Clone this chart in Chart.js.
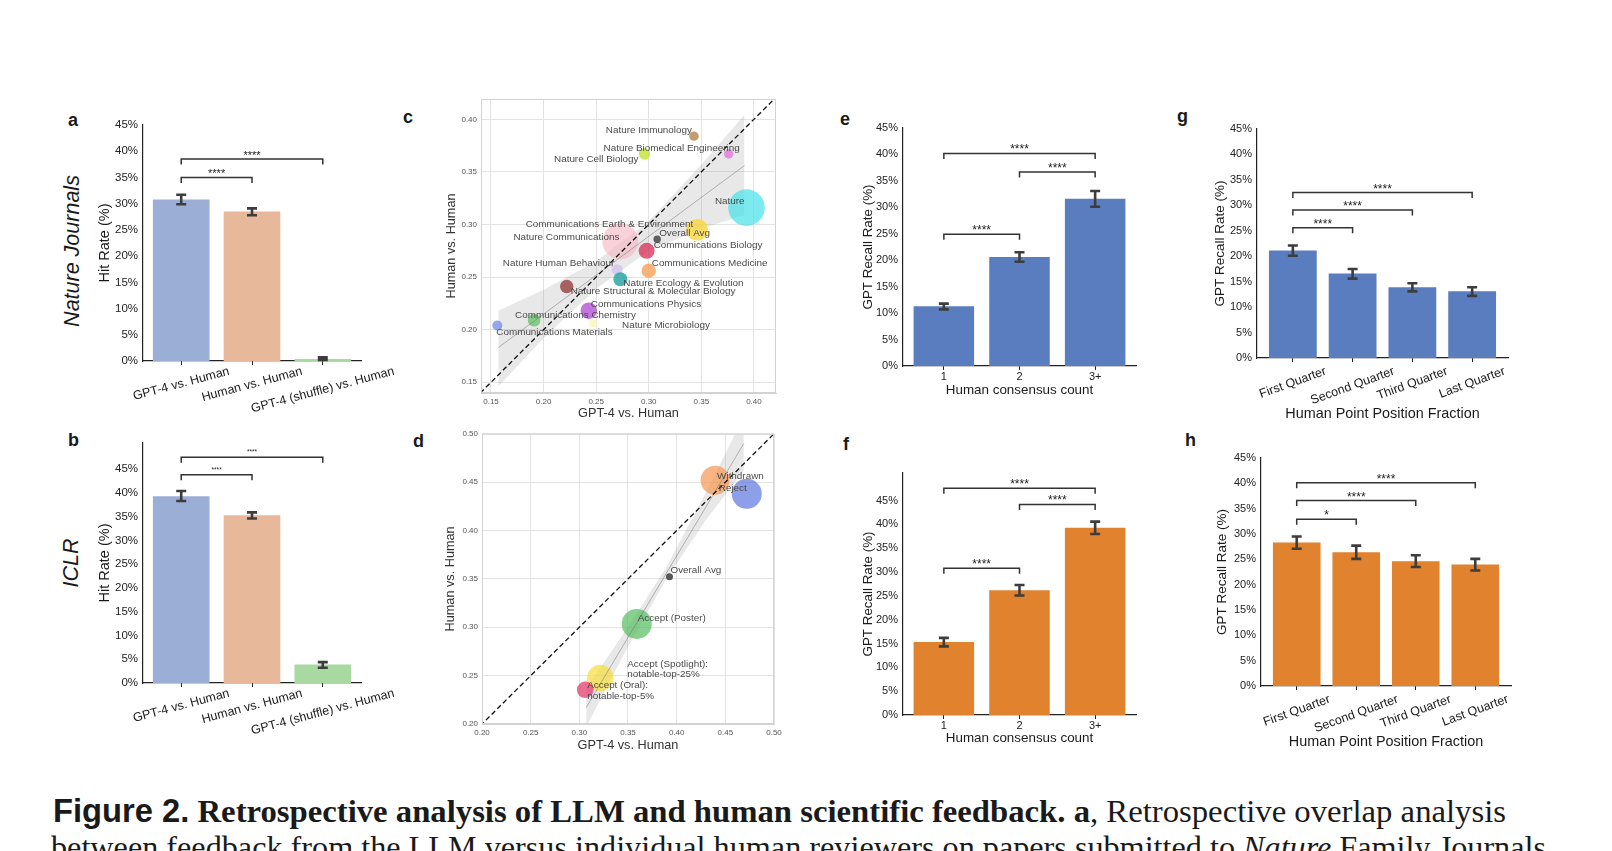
<!DOCTYPE html>
<html>
<head>
<meta charset="utf-8">
<script src="https://cdn.jsdelivr.net/npm/chart.js@4.4.0/dist/chart.umd.min.js"></script>
<style>
  html, body { margin: 0; padding: 0; background: #fff; }
  #page { position: relative; width: 1612px; height: 851px; overflow: hidden; color: #1a1a1a;
          font-family: "Liberation Sans", Arial, Helvetica, sans-serif; }
  canvas { position: absolute; }
  .tag { position: absolute; font-weight: bold; font-size: 18px; line-height: 1; }
  .side { position: absolute; font-style: italic; font-size: 21.5px; line-height: 1; white-space: nowrap;
          transform: translate(-50%, -50%) rotate(-90deg); }
  .cap { position: absolute; font-family: "Liberation Serif", "Times New Roman", serif; font-size: 32.5px;
         line-height: 1; white-space: nowrap; }
  .cap span { display: inline-block; transform-origin: 0 0; }
  .cap .fig { font-family: "Liberation Sans", Arial, sans-serif; font-weight: bold; }
</style>
</head>
<body>
<div id="page">
  <div class="tag" style="left:68px;top:111px">a</div>
  <div class="tag" style="left:68px;top:431px">b</div>
  <div class="tag" style="left:403px;top:108px">c</div>
  <div class="tag" style="left:413px;top:432px">d</div>
  <div class="tag" style="left:840px;top:110px">e</div>
  <div class="tag" style="left:843px;top:435px">f</div>
  <div class="tag" style="left:1177px;top:107px">g</div>
  <div class="tag" style="left:1185px;top:431px">h</div>
  <div class="side" style="left:72.5px;top:251px">Nature Journals</div>
  <div class="side" style="left:72px;top:563px">ICLR</div>
  <div class="cap" id="cap1" style="left:53px;top:795px"><span><b class="fig">Figure 2.</b> <b>Retrospective analysis of LLM and human scientific feedback.</b> <b>a</b>, Retrospective overlap analysis</span></div>
  <div class="cap" id="cap2" style="left:51px;top:831px"><span>between feedback from the LLM versus individual human reviewers on papers submitted to <i>Nature</i> Family Journals</span></div>
</div>
<script>
const SANS = '"Liberation Sans", Arial, Helvetica, sans-serif';

// a / b : hit rate
const hitCats = ['GPT-4 vs. Human', 'Human vs. Human', 'GPT-4 (shuffle) vs. Human'];
const natureHit = [30.8, 28.5, 0.4];
const natureHitLo = [29.9, 27.8, 0.2];
const natureHitHi = [31.7, 29.1, 0.7];
const natureHitSigFrom = [0, 0];
const natureHitSigTo = [1, 2];
const natureHitSigAt = [35.0, 38.5];
const natureHitSigText = ['****', '****'];

const iclrHit = [39.3, 35.3, 3.9];
const iclrHitLo = [38.3, 34.6, 3.2];
const iclrHitHi = [40.4, 35.9, 4.4];
const iclrHitSigFrom = [0, 0];
const iclrHitSigTo = [1, 2];
const iclrHitSigAt = [43.8, 47.5];
const iclrHitSigText = ['****', '****'];

// e / f : recall by human consensus count
const consensusCats = ['1', '2', '3+'];
const natureConsensus = [11.3, 20.6, 31.6];
const natureConsensusLo = [10.7, 19.7, 30.1];
const natureConsensusHi = [11.8, 21.5, 33.1];
const natureConsensusSigFrom = [0, 1, 0];
const natureConsensusSigTo = [1, 2, 2];
const natureConsensusSigAt = [24.9, 36.7, 40.2];
const natureConsensusSigText = ['****', '****', '****'];

const iclrConsensus = [15.3, 26.2, 39.3];
const iclrConsensusLo = [14.4, 25.1, 38.0];
const iclrConsensusHi = [16.2, 27.3, 40.6];
const iclrConsensusSigFrom = [0, 1, 0];
const iclrConsensusSigTo = [1, 2, 2];
const iclrConsensusSigAt = [30.8, 44.2, 47.6];
const iclrConsensusSigText = ['****', '****', '****'];

// g / h : recall by position of the human point
const quarterCats = ['First Quarter', 'Second Quarter', 'Third Quarter', 'Last Quarter'];
const natureQuarter = [21.1, 16.6, 13.9, 13.1];
const natureQuarterLo = [20.1, 15.6, 13.1, 12.2];
const natureQuarterHi = [22.1, 17.5, 14.7, 13.9];
const natureQuarterSigFrom = [0, 0, 0];
const natureQuarterSigTo = [1, 2, 3];
const natureQuarterSigAt = [25.6, 29.1, 32.5];
const natureQuarterSigText = ['****', '****', '****'];

const iclrQuarter = [28.3, 26.4, 24.6, 24.0];
const iclrQuarterLo = [27.1, 25.1, 23.5, 22.8];
const iclrQuarterHi = [29.5, 27.7, 25.8, 25.1];
const iclrQuarterSigFrom = [0, 0, 0];
const iclrQuarterSigTo = [1, 2, 3];
const iclrQuarterSigAt = [32.9, 36.6, 40.1];
const iclrQuarterSigText = ['*', '****', '****'];

const pctTicks = [0, 5, 10, 15, 20, 25, 30, 35, 40, 45];

// c : per-journal overlap
const journalNames = ['Nature', 'Nature Communications', 'Communications Earth & Environment', 'Nature Immunology',
  'Nature Biomedical Engineering', 'Nature Cell Biology', 'Overall Avg', 'Communications Biology',
  'Communications Medicine', 'Nature Human Behaviour', 'Nature Ecology & Evolution',
  'Nature Structural & Molecular Biology', 'Communications Physics', 'Communications Chemistry',
  'Communications Materials', 'Nature Microbiology'];
const journalGpt = [0.393, 0.273, 0.346, 0.343, 0.376, 0.296, 0.308, 0.298, 0.300, 0.270, 0.273, 0.222, 0.243, 0.191, 0.156, 0.247];
const journalHuman = [0.316, 0.284, 0.295, 0.384, 0.367, 0.367, 0.286, 0.275, 0.256, 0.257, 0.248, 0.241, 0.218, 0.209, 0.204, 0.206];
const journalSize = [18.3, 18, 10.8, 4.7, 4.7, 5.7, 3.7, 8, 7.2, 5.5, 7, 6.7, 8.3, 6.3, 5, 4.2];
const journalFitX = [0.157, 0.391];
const journalFitY = [0.183, 0.356];
const journalBandX = [0.157, 0.20, 0.25, 0.30, 0.35, 0.391];
const journalBandLo = [0.146, 0.192, 0.239, 0.275, 0.296, 0.309];
const journalBandHi = [0.218, 0.238, 0.265, 0.303, 0.357, 0.404];
const journalTicks = [0.15, 0.20, 0.25, 0.30, 0.35, 0.40];

// d : ICLR decision groups
const decisionNames = ['Withdrawn', 'Reject', 'Accept (Poster)', 'Accept (Spotlight):\nnotable-top-25%',
  'Accept (Oral):\nnotable-top-5%', 'Overall Avg'];
const decisionGpt = [0.4395, 0.472, 0.359, 0.3215, 0.306, 0.3926];
const decisionHuman = [0.452, 0.438, 0.3034, 0.2474, 0.2354, 0.3522];
const decisionSize = [14.5, 15, 15, 13.3, 8.3, 3.5];
const decisionFitX = [0.307, 0.469];
const decisionFitY = [0.217, 0.490];
const decisionBandX = [0.307, 0.35, 0.39, 0.43, 0.469];
const decisionBandLo = [0.197, 0.280, 0.351, 0.411, 0.462];
const decisionBandHi = [0.237, 0.300, 0.363, 0.439, 0.518];
const decisionTicks = [0.20, 0.25, 0.30, 0.35, 0.40, 0.45, 0.50];

function addCanvas(id, box) {
  const c = document.createElement('canvas');
  c.id = id;
  c.width = box[2]; c.height = box[3];
  c.style.left = box[0] + 'px'; c.style.top = box[1] + 'px';
  c.style.width = box[2] + 'px'; c.style.height = box[3] + 'px';
  document.getElementById('page').appendChild(c);
  return c;
}

// the axes take the left and bottom margins, layout padding the rest
function frame(box, area) {
  return {
    padding: { left: 0, top: area[1] - box[1], right: box[0] + box[2] - area[2], bottom: 0 },
    yWidth: area[0] - box[0],
    xHeight: box[1] + box[3] - area[3]
  };
}

function barPanel(p) {
  const cv = addCanvas(p.id, p.box);
  const n = p.cats.length;
  const fr = frame(p.box, p.area);
  new Chart(cv, {
    type: 'bar',
    data: {
      datasets: [{
        data: p.vals.map((v, i) => ({ x: i, y: v })),
        backgroundColor: p.colors,
        borderWidth: 0,
        barPercentage: 0.8,
        categoryPercentage: 1
      }]
    },
    options: {
      responsive: false,
      animation: false,
      events: [],
      layout: { padding: fr.padding, autoPadding: false },
      plugins: { legend: { display: false }, tooltip: { enabled: false } },
      scales: {
        x: {
          type: 'linear', min: -p.xPad, max: n - 1 + p.xPad, offset: false,
          afterFit: s => { s.height = fr.xHeight; },
          afterBuildTicks: s => { s.ticks = p.cats.map((c, i) => ({ value: i })); },
          ticks: { display: false },
          grid: { display: true, offset: false, drawOnChartArea: false, drawTicks: true, tickLength: 4, color: '#222', lineWidth: 1 },
          border: { display: true, color: '#222', width: 1.2 }
        },
        y: {
          min: 0, max: p.yMax,
          afterFit: s => { s.width = fr.yWidth; },
          afterBuildTicks: s => { s.ticks = pctTicks.map(v => ({ value: v })); },
          ticks: { callback: v => v + '%', font: { family: SANS, size: p.yFont }, color: '#222', padding: 5 },
          grid: { display: false, drawTicks: false },
          border: { display: true, color: '#222', width: 1.2 }
        }
      }
    },
    plugins: [{
      id: 'barExtras',
      afterDraw(chart) {
        const ctx = chart.ctx, xs = chart.scales.x, ys = chart.scales.y, area = chart.chartArea;
        ctx.save();
        // error bars
        ctx.strokeStyle = '#3d3d3d';
        ctx.lineWidth = 2.6;
        p.lo.forEach((lo, i) => {
          const x = xs.getPixelForValue(i);
          const y1 = ys.getPixelForValue(lo), y2 = ys.getPixelForValue(p.hi[i]);
          ctx.beginPath();
          ctx.moveTo(x, y1); ctx.lineTo(x, y2);
          ctx.moveTo(x - 5, y1); ctx.lineTo(x + 5, y1);
          ctx.moveTo(x - 5, y2); ctx.lineTo(x + 5, y2);
          ctx.stroke();
        });
        // significance brackets
        ctx.strokeStyle = '#333';
        ctx.lineWidth = 1.5;
        ctx.fillStyle = '#222';
        ctx.font = p.starFont + 'px ' + SANS;
        ctx.textAlign = 'center';
        ctx.textBaseline = 'alphabetic';
        p.sigFrom.forEach((f, k) => {
          const x1 = xs.getPixelForValue(f), x2 = xs.getPixelForValue(p.sigTo[k]);
          const y = ys.getPixelForValue(p.sigAt[k]);
          ctx.beginPath();
          ctx.moveTo(x1, y + 5.5); ctx.lineTo(x1, y); ctx.lineTo(x2, y); ctx.lineTo(x2, y + 5.5);
          ctx.stroke();
          ctx.fillText(p.sigText[k], (x1 + x2) / 2, y - p.starLift);
        });
        // category labels
        ctx.fillStyle = '#1a1a1a';
        ctx.font = p.xFont + 'px ' + SANS;
        ctx.textBaseline = 'middle';
        const rad = p.rot * Math.PI / 180;
        p.cats.forEach((c, i) => {
          const x = xs.getPixelForValue(i);
          const w = ctx.measureText(c).width;
          const h = w * Math.sin(rad) + p.xFont * Math.cos(rad);
          ctx.save();
          ctx.translate(x, area.bottom + p.labelGap + h / 2);
          ctx.rotate(-rad);
          ctx.fillText(c, 0, 0);
          ctx.restore();
        });
        // axis titles
        if (p.xTitle) {
          ctx.font = p.xTitleFont + 'px ' + SANS;
          ctx.fillText(p.xTitle, (area.left + area.right) / 2, area.bottom + p.xTitleGap);
        }
        ctx.font = p.yTitleFont + 'px ' + SANS;
        ctx.save();
        ctx.translate(area.left - p.yTitleGap, (area.top + area.bottom) / 2);
        ctx.rotate(-Math.PI / 2);
        ctx.fillText(p.yTitle, 0, 0);
        ctx.restore();
        ctx.restore();
      }
    }]
  });
}

function scatterPanel(p) {
  const cv = addCanvas(p.id, p.box);
  const fr = frame(p.box, p.area);
  const axis = (lim, ticks) => ({
    type: 'linear', min: lim[0], max: lim[1],
    afterBuildTicks: s => { s.ticks = ticks.map(v => ({ value: v })); },
    ticks: { callback: v => v.toFixed(2), font: { family: SANS, size: 8 }, color: '#555', padding: 4 },
    grid: { color: '#e3e3e3', lineWidth: 1, drawTicks: false },
    border: { color: '#d2d2d2', width: 1 }
  });
  const xAxis = axis(p.xLim, p.ticks);
  xAxis.afterFit = s => { s.height = fr.xHeight; };
  const yAxis = axis(p.yLim, p.ticks);
  yAxis.afterFit = s => { s.width = fr.yWidth; };
  new Chart(cv, {
    type: 'bubble',
    data: {
      datasets: [
        { type: 'line', data: [{ x: 0, y: 0 }, { x: 1, y: 1 }], borderColor: '#111', borderWidth: 1.3,
          borderDash: [5, 3], pointRadius: 0, fill: false, order: 0 },
        { type: 'line', data: p.fitX.map((x, i) => ({ x, y: p.fitY[i] })), borderColor: 'rgba(110,110,110,0.6)',
          borderWidth: 0.8, pointRadius: 0, fill: false, order: 1 },
        { data: p.x.map((x, i) => ({ x, y: p.y[i], r: p.r[i] })), backgroundColor: p.colors, borderWidth: 0, order: 2 },
        { type: 'line', data: p.bandX.map((x, i) => ({ x, y: p.bandHi[i] })), borderWidth: 0, borderColor: 'rgba(0,0,0,0)',
          pointRadius: 0, fill: '+1', backgroundColor: 'rgba(150,150,150,0.22)', order: 3 },
        { type: 'line', data: p.bandX.map((x, i) => ({ x, y: p.bandLo[i] })), borderWidth: 0, borderColor: 'rgba(0,0,0,0)',
          pointRadius: 0, fill: false, order: 4 }
      ]
    },
    options: {
      responsive: false,
      animation: false,
      events: [],
      layout: { padding: fr.padding, autoPadding: false },
      plugins: { legend: { display: false }, tooltip: { enabled: false } },
      scales: { x: xAxis, y: yAxis }
    },
    plugins: [{
      id: 'scatterExtras',
      afterDatasetsDraw(chart) {
        const ctx = chart.ctx, xs = chart.scales.x, ys = chart.scales.y, area = chart.chartArea;
        ctx.save();
        ctx.strokeStyle = '#d2d2d2';
        ctx.lineWidth = 1;
        ctx.strokeRect(area.left + 0.5, area.top + 0.5, area.right - area.left - 1, area.bottom - area.top - 1);
        ctx.font = '9.9px ' + SANS;
        ctx.fillStyle = '#4a4a4a';
        ctx.textBaseline = 'middle';
        p.names.forEach((name, i) => {
          const [align, dx, dy] = p.place[i];
          const px = xs.getPixelForValue(p.x[i]) + dx, py = ys.getPixelForValue(p.y[i]) + dy;
          ctx.textAlign = align;
          name.split('\n').forEach((line, k) => ctx.fillText(line, px, py + k * 10.3));
        });
        ctx.fillStyle = '#333';
        ctx.font = '12.7px ' + SANS;
        ctx.textAlign = 'center';
        ctx.fillText(p.xTitle, (area.left + area.right) / 2, area.bottom + p.xTitleGap);
        ctx.translate(area.left - p.yTitleGap, (area.top + area.bottom) / 2);
        ctx.rotate(-Math.PI / 2);
        ctx.fillText(p.yTitle, 0, 0);
        ctx.restore();
      }
    }]
  });
}

const hitColors = ['#9aaed6', '#e8b89b', '#a8d9a1'];
const blue = '#5a7dbf', orange = '#e0822e';

barPanel({ id: 'pa', box: [40, 100, 370, 330], area: [143, 125, 361, 361], cats: hitCats,
  vals: natureHit, lo: natureHitLo, hi: natureHitHi, colors: hitColors, yMax: 45,
  sigFrom: natureHitSigFrom, sigTo: natureHitSigTo, sigAt: natureHitSigAt, sigText: natureHitSigText,
  xPad: 0.54, yFont: 11.5, xFont: 12.5, rot: 15, labelGap: 4, starFont: 11, starLift: 0,
  yTitleFont: 14.5, yTitle: 'Hit Rate (%)', yTitleGap: 38 });

barPanel({ id: 'pb', box: [40, 430, 370, 320], area: [143, 443, 361, 683], cats: hitCats,
  vals: iclrHit, lo: iclrHitLo, hi: iclrHitHi, colors: hitColors, yMax: 50.5,
  sigFrom: iclrHitSigFrom, sigTo: iclrHitSigTo, sigAt: iclrHitSigAt, sigText: iclrHitSigText,
  xPad: 0.54, yFont: 11.5, xFont: 12.5, rot: 15, labelGap: 4, starFont: 6.5, starLift: 3,
  yTitleFont: 14.5, yTitle: 'Hit Rate (%)', yTitleGap: 38 });

barPanel({ id: 'pe', box: [830, 100, 330, 320], area: [903, 128, 1136, 366], cats: consensusCats,
  vals: natureConsensus, lo: natureConsensusLo, hi: natureConsensusHi, colors: blue, yMax: 45,
  sigFrom: natureConsensusSigFrom, sigTo: natureConsensusSigTo, sigAt: natureConsensusSigAt, sigText: natureConsensusSigText,
  xPad: 0.54, yFont: 11, xFont: 11, rot: 0, labelGap: 5, starFont: 12, starLift: 0,
  xTitleFont: 13.4, yTitleFont: 13.4, xTitle: 'Human consensus count', xTitleGap: 24,
  yTitle: 'GPT Recall Rate (%)', yTitleGap: 35 });

barPanel({ id: 'pf', box: [830, 430, 330, 320], area: [903, 473, 1136, 715], cats: consensusCats,
  vals: iclrConsensus, lo: iclrConsensusLo, hi: iclrConsensusHi, colors: orange, yMax: 50.8,
  sigFrom: iclrConsensusSigFrom, sigTo: iclrConsensusSigTo, sigAt: iclrConsensusSigAt, sigText: iclrConsensusSigText,
  xPad: 0.54, yFont: 11, xFont: 11, rot: 0, labelGap: 5, starFont: 12, starLift: 0,
  xTitleFont: 13.4, yTitleFont: 13.4, xTitle: 'Human consensus count', xTitleGap: 23.5,
  yTitle: 'GPT Recall Rate (%)', yTitleGap: 35 });

barPanel({ id: 'pg', box: [1170, 100, 380, 330], area: [1257, 129, 1508, 358], cats: quarterCats,
  vals: natureQuarter, lo: natureQuarterLo, hi: natureQuarterHi, colors: blue, yMax: 45,
  sigFrom: natureQuarterSigFrom, sigTo: natureQuarterSigTo, sigAt: natureQuarterSigAt, sigText: natureQuarterSigText,
  xPad: 0.6, yFont: 11, xFont: 12.5, rot: 20, labelGap: 7, starFont: 12, starLift: 0,
  xTitleFont: 14.4, yTitleFont: 13.5, xTitle: 'Human Point Position Fraction', xTitleGap: 56,
  yTitle: 'GPT Recall Rate (%)', yTitleGap: 37 });

barPanel({ id: 'ph', box: [1170, 430, 380, 330], area: [1261, 458, 1511, 686], cats: quarterCats,
  vals: iclrQuarter, lo: iclrQuarterLo, hi: iclrQuarterHi, colors: orange, yMax: 45,
  sigFrom: iclrQuarterSigFrom, sigTo: iclrQuarterSigTo, sigAt: iclrQuarterSigAt, sigText: iclrQuarterSigText,
  xPad: 0.6, yFont: 11, xFont: 12.5, rot: 20, labelGap: 7, starFont: 12, starLift: 0,
  xTitleFont: 14.4, yTitleFont: 13.5, xTitle: 'Human Point Position Fraction', xTitleGap: 56,
  yTitle: 'GPT Recall Rate (%)', yTitleGap: 39 });

scatterPanel({ id: 'pc', box: [400, 90, 400, 335], area: [481, 99, 776, 393],
  names: journalNames, x: journalGpt, y: journalHuman, r: journalSize,
  colors: ['rgba(70,225,232,0.7)', 'rgba(246,186,196,0.65)', 'rgba(250,214,50,0.75)', 'rgba(186,136,86,0.85)',
    'rgba(226,120,222,0.8)', 'rgba(196,226,50,0.8)', 'rgba(70,70,70,0.85)', 'rgba(216,44,86,0.75)',
    'rgba(248,160,88,0.8)', 'rgba(214,196,242,0.8)', 'rgba(30,160,160,0.8)', 'rgba(150,64,60,0.8)',
    'rgba(176,70,210,0.75)', 'rgba(100,194,100,0.75)', 'rgba(116,138,228,0.75)', 'rgba(255,244,180,0.8)'],
  place: [['right', -2, -6], ['right', -1, -4], ['right', -4, -5], ['right', -2, -6],
    ['right', 11, -6], ['right', -6, 5], ['left', 2, -6], ['left', 7, -6],
    ['left', 3, -7], ['right', -3, -6], ['left', 3, 4], ['left', 4, 5],
    ['left', 2, -6], ['left', -19, -5], ['left', -1, 7], ['left', 29, 2]],
  fitX: journalFitX, fitY: journalFitY, bandX: journalBandX, bandLo: journalBandLo, bandHi: journalBandHi,
  xLim: [0.1405, 0.421], yLim: [0.1398, 0.4193], ticks: journalTicks,
  xTitle: 'GPT-4 vs. Human', xTitleGap: 20, yTitle: 'Human vs. Human', yTitleGap: 30 });

scatterPanel({ id: 'pd', box: [400, 425, 400, 330], area: [482, 433, 774, 724],
  names: decisionNames, x: decisionGpt, y: decisionHuman, r: decisionSize,
  colors: ['rgba(246,150,80,0.7)', 'rgba(92,118,222,0.7)', 'rgba(82,190,92,0.7)', 'rgba(246,222,60,0.7)',
    'rgba(230,60,110,0.75)', 'rgba(60,60,60,0.85)'],
  place: [['left', 2, -4], ['left', -28, -6], ['left', 1, -6], ['left', 27, -14], ['left', 2, -4], ['left', 1, -6]],
  fitX: decisionFitX, fitY: decisionFitY, bandX: decisionBandX, bandLo: decisionBandLo, bandHi: decisionBandHi,
  xLim: [0.2, 0.5], yLim: [0.2, 0.5], ticks: decisionTicks,
  xTitle: 'GPT-4 vs. Human', xTitleGap: 21.7, yTitle: 'Human vs. Human', yTitleGap: 31.3 });

// caption lines: squeeze to the measured line widths
[['cap1', 1453], ['cap2', 1495]].forEach(([id, w]) => {
  const span = document.querySelector('#' + id + ' span');
  const natural = span.getBoundingClientRect().width;
  span.style.transform = 'scaleX(' + (w / natural) + ')';
});
</script>
</body>
</html>
